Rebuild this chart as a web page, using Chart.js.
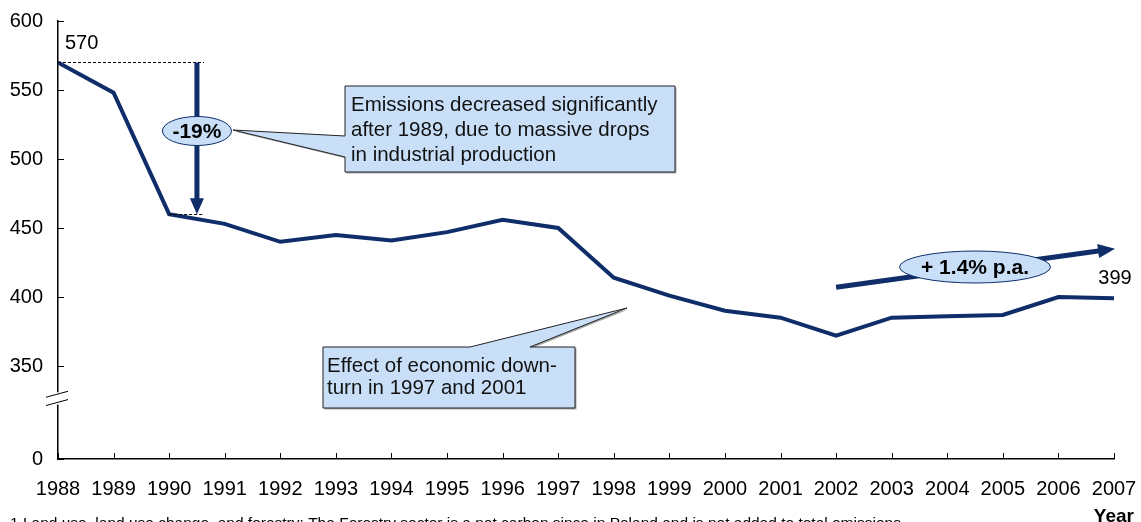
<!DOCTYPE html>
<html lang="en">
<head>
<meta charset="UTF-8">
<title>GHG emissions 1988-2007</title>
<script src="https://cdn.jsdelivr.net/npm/chart.js"></script>
<style>
  html, body { margin: 0; padding: 0; background: #fff; }
  canvas { display: block; }
</style>
</head>
<body>
<canvas id="emissionsChart" width="1141" height="522"></canvas>
<script>
// Emissions by year (broken axis: 0, then 350-600)
const years = ['1988', '1989', '1990', '1991', '1992', '1993', '1994', '1995', '1996', '1997',
               '1998', '1999', '2000', '2001', '2002', '2003', '2004', '2005', '2006', '2007'];
const emissions = [570, 548, 460, 453, 440, 445, 441, 447, 456, 450,
                   414, 401, 390, 385, 372, 385, 386, 387, 400, 399];
const yTicks = [0, 350, 400, 450, 500, 550, 600];
// where "0" sits on the compressed part of the axis
const yBase = 282.6;

const NAVY = '#0f2d69';
const FILL = '#c9dff8';
const FONT = '"Liberation Sans", Arial, sans-serif';

function arrowHead(ctx, x, y, angle, len, half) {
    ctx.save();
    ctx.translate(x, y);
    ctx.rotate(angle);
    ctx.beginPath();
    ctx.moveTo(0, 0);
    ctx.lineTo(-len, -half);
    ctx.lineTo(-len, half);
    ctx.closePath();
    ctx.fill();
    ctx.restore();
}

function ellipseLabel(ctx, cx, cy, rx, ry, text) {
    ctx.beginPath();
    ctx.ellipse(cx, cy, rx, ry, 0, 0, Math.PI * 2);
    ctx.fillStyle = FILL;
    ctx.fill();
    ctx.lineWidth = 1;
    ctx.strokeStyle = NAVY;
    ctx.stroke();
    ctx.fillStyle = '#000';
    ctx.font = 'bold 21px ' + FONT;
    ctx.textAlign = 'center';
    ctx.textBaseline = 'middle';
    ctx.fillText(text, cx, cy + 1);
}

function callout(ctx, path, lines, tx, ty, lh) {
    ctx.save();
    ctx.beginPath();
    ctx.moveTo(path[0][0], path[0][1]);
    path.slice(1).forEach(p => ctx.lineTo(p[0], p[1]));
    ctx.closePath();
    ctx.shadowColor = 'rgba(0,0,0,0.35)';
    ctx.shadowOffsetX = 1.5;
    ctx.shadowOffsetY = 1.5;
    ctx.fillStyle = FILL;
    ctx.fill();
    ctx.shadowColor = 'transparent';
    ctx.lineWidth = 1;
    ctx.strokeStyle = '#222';
    ctx.stroke();
    ctx.restore();
    ctx.fillStyle = '#111';
    ctx.font = '20.5px ' + FONT;
    ctx.textAlign = 'left';
    ctx.textBaseline = 'middle';
    lines.forEach((l, i) => ctx.fillText(l, tx, ty + i * lh));
}

const annotations = {
    id: 'annotations',
    afterDraw(chart) {
        const ctx = chart.ctx;
        const x = chart.scales.x, y = chart.scales.y;
        const area = chart.chartArea;
        ctx.save();

        // inward tick marks
        ctx.strokeStyle = '#000';
        ctx.lineWidth = 1;
        ctx.beginPath();
        y.ticks.forEach(t => {
            const p = Math.round(y.getPixelForValue(t.value)) + 0.5;
            ctx.moveTo(area.left, p);
            ctx.lineTo(area.left + 6, p);
        });
        years.forEach((_, i) => {
            const p = Math.round(x.getPixelForValue(i)) + 0.5;
            ctx.moveTo(p, area.bottom);
            ctx.lineTo(p, area.bottom - 6);
        });
        ctx.stroke();

        // axis break marks
        const b1 = y.getPixelForValue(329.5), b2 = y.getPixelForValue(323.5);
        ctx.fillStyle = '#fff';
        ctx.fillRect(area.left - 2, b1 - 2, 4, b2 - b1 + 4);
        ctx.beginPath();
        ctx.moveTo(area.left - 12, b1 + 3); ctx.lineTo(area.left + 10, b1 - 3);
        ctx.moveTo(area.left - 12, b2 + 3); ctx.lineTo(area.left + 10, b2 - 3);
        ctx.stroke();

        // start / end value labels
        const first = emissions[0], last = emissions[emissions.length - 1];
        ctx.fillStyle = '#000';
        ctx.font = '20px ' + FONT;
        ctx.textBaseline = 'middle';
        ctx.textAlign = 'left';
        ctx.fillText(String(first), x.getPixelForValue(0) + 7, y.getPixelForValue(first) - 19);
        ctx.textAlign = 'center';
        ctx.fillText(String(last), x.getPixelForValue(years.length - 1) + 1, y.getPixelForValue(last) - 20);

        // drop from 1988 to 1990
        const low = emissions[2];
        const ax = x.getPixelForValue(2.5);
        const yTop = y.getPixelForValue(first), yLow = y.getPixelForValue(low);
        ctx.setLineDash([3, 2]);
        ctx.lineWidth = 1;
        ctx.strokeStyle = '#000';
        ctx.beginPath();
        ctx.moveTo(area.left, Math.round(yTop) + 0.5);
        ctx.lineTo(ax + 7, Math.round(yTop) + 0.5);
        ctx.moveTo(x.getPixelForValue(2), Math.round(yLow) + 0.5);
        ctx.lineTo(ax + 7, Math.round(yLow) + 0.5);
        ctx.stroke();
        ctx.setLineDash([]);
        ctx.strokeStyle = NAVY;
        ctx.fillStyle = NAVY;
        ctx.lineWidth = 5;
        ctx.beginPath();
        ctx.moveTo(ax, yTop);
        ctx.lineTo(ax, yLow - 14);
        ctx.stroke();
        arrowHead(ctx, ax, yLow, Math.PI / 2, 16, 7);

        callout(ctx, [[345, 86], [675, 86], [675, 172], [345, 172], [345, 157], [233, 130], [345, 136]],
            ['Emissions decreased significantly', 'after 1989, due to massive drops', 'in industrial production'],
            351, 105, 25);
        const pct = Math.round((low - first) / first * 100);
        ellipseLabel(ctx, ax, 131, 34.5, 14.5, pct + '%');

        // growth 2002-2007
        const gx0 = x.getPixelForValue(14), gx1 = x.getPixelForValue(years.length - 1) + 1;
        const gy0 = y.getPixelForValue(407), gy1 = y.getPixelForValue(435);
        const ang = Math.atan2(gy1 - gy0, gx1 - gx0);
        ctx.strokeStyle = NAVY;
        ctx.fillStyle = NAVY;
        ctx.lineWidth = 5;
        ctx.beginPath();
        ctx.moveTo(gx0, gy0);
        ctx.lineTo(gx1 - 15 * Math.cos(ang), gy1 - 15 * Math.sin(ang));
        ctx.stroke();
        arrowHead(ctx, gx1, gy1, ang, 17, 7);
        const rate = (Math.pow(last / emissions[14], 1 / 5) - 1) * 100;
        ellipseLabel(ctx, 975, 267, 75.5, 16, '+ ' + rate.toFixed(1) + '% p.a.');

        callout(ctx, [[323, 347], [470, 347], [627, 308], [530, 347], [575, 347], [575, 408], [323, 408]],
            ['Effect of economic down-', 'turn in 1997 and 2001'],
            327, 366, 22);

        // axis title and footnote
        ctx.fillStyle = '#000';
        ctx.font = 'bold 19px ' + FONT;
        ctx.textAlign = 'right';
        ctx.textBaseline = 'alphabetic';
        ctx.fillText('Year', 1134, 522);
        ctx.font = '15.5px ' + FONT;
        ctx.textAlign = 'left';
        ctx.fillText('1 Land use, land use change, and forestry: The Forestry sector is a net carbon since in Poland and is not added to total emissions', 10, 528);

        ctx.restore();
    }
};

const ctx = document.getElementById('emissionsChart').getContext('2d');
new Chart(ctx, {
    type: 'line',
    data: {
        labels: years,
        datasets: [{
            data: emissions,
            borderColor: NAVY,
            borderWidth: 4,
            pointRadius: 0,
            tension: 0,
            fill: false
        }]
    },
    options: {
        responsive: false,
        animation: false,
        layout: { padding: { top: 21, right: 27, left: 0, bottom: 0 } },
        plugins: { legend: { display: false }, tooltip: { enabled: false } },
        scales: {
            x: {
                offset: false,
                grid: { display: false, drawTicks: false },
                border: { display: true, color: '#000', width: 1.5 },
                ticks: { color: '#000', font: { size: 20, family: FONT }, padding: 18, maxRotation: 0, autoSkip: false },
                afterFit: s => { s.height = 63; s.paddingLeft = 0; s.paddingRight = 0; }
            },
            y: {
                min: yBase,
                max: 600,
                grid: { display: false, drawTicks: false },
                border: { display: true, color: '#000', width: 1.5 },
                afterBuildTicks: s => { s.ticks = yTicks.map(v => ({ value: v === 0 ? yBase : v })); },
                ticks: {
                    color: '#000',
                    font: { size: 20, family: FONT },
                    padding: 15,
                    callback: v => (v < yTicks[1] ? '0' : v)
                },
                afterFit: s => { s.width = 58; s.paddingTop = 0; s.paddingBottom = 0; }
            }
        }
    },
    plugins: [annotations]
});
</script>
</body>
</html>
